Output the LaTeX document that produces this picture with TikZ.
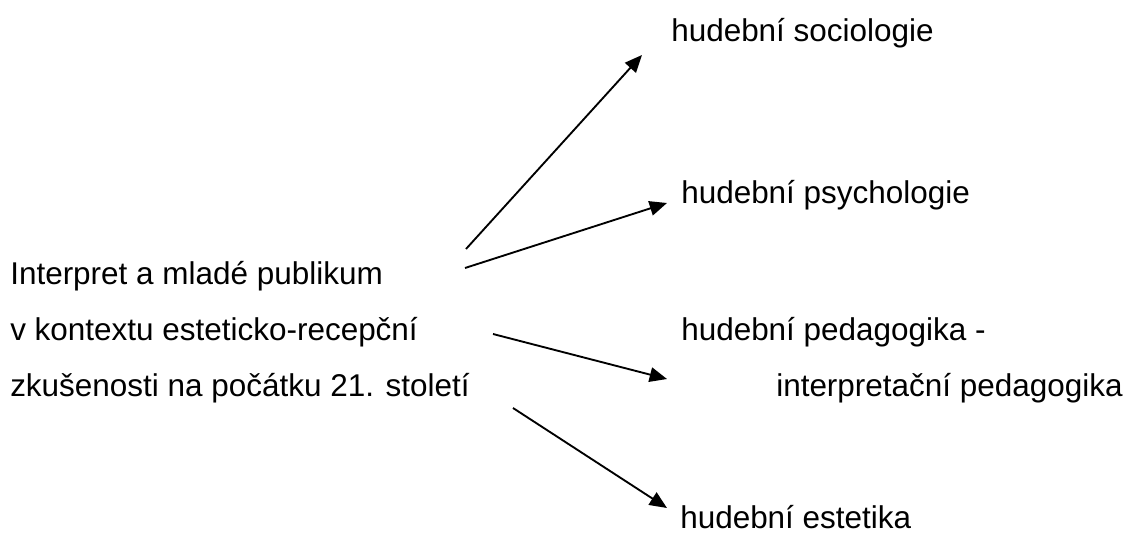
\documentclass[tikz,border=0pt]{standalone}
\usepackage{fontspec}
\setmainfont{Liberation Sans}
\usetikzlibrary{arrows.meta}

\begin{document}
\begin{tikzpicture}
[x=0.75pt, y=-0.75pt,
% The txt style is used for every label of the picture
txt/.style={inner sep=0pt, anchor=base west, font=\fontsize{23.6}{28}\selectfont},
% The link style is used to draw the arrows
link/.style={line width=1.4pt, -{Triangle[length=13pt,width=11pt]}}
]
\useasboundingbox (0,0) rectangle (1129,535);
% Draw the main topic
\node[txt] (topa) at (10,284) {Interpret a mladé publikum};
\node[txt] (topb) at (10,340) {v kontextu esteticko-recepční};
\node[txt] (topc) at (10,396) {zkušenosti na počátku 21. století};
% Draw the disciplines
\node[txt] (soc) at (671,42) {hudební sociologie};
\node[txt] (psy) at (681,203) {hudební psychologie};
\node[txt] (ped) at (681,340) {hudební pedagogika -};
\node[txt] (int) at (776,396) {interpretační pedagogika};
\node[txt] (est) at (680,528) {hudební estetika};
% Ends of the arrows
\coordinate (s1) at (466,249);
\coordinate (e1) at (642,55);
\coordinate (s2) at (465,268);
\coordinate (e2) at (667,203);
\coordinate (s3) at (493,334);
\coordinate (e3) at (667,379);
\coordinate (s4) at (513,408);
\coordinate (e4) at (667,508);
\draw[link] (s1) -- (e1);
\draw[link] (s2) -- (e2);
\draw[link] (s3) -- (e3);
\draw[link] (s4) -- (e4);
\end{tikzpicture}
\end{document}
